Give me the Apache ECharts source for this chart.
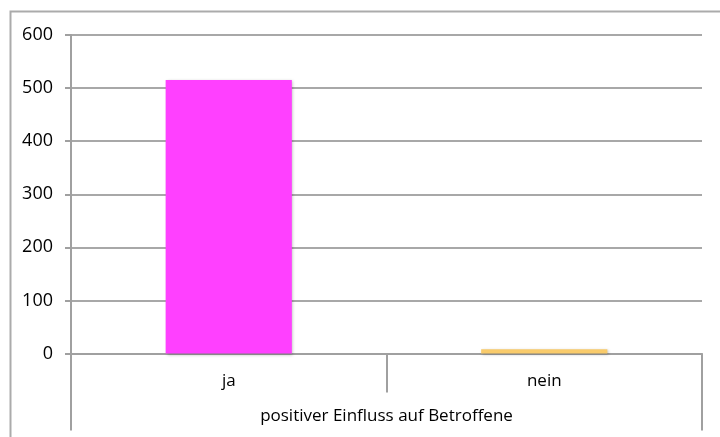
<!DOCTYPE html>
<html>
<head>
<meta charset="utf-8">
<script src="https://cdn.jsdelivr.net/npm/echarts@6/dist/echarts.min.js"></script>
<style>
html,body{margin:0;padding:0;background:#fff;}
#c{width:720px;height:437px;}
</style>
</head>
<body>
<div id="c"></div>
<script>
const categories = ['ja', 'nein'];
const groupLabel = ['positiver Einfluss auf Betroffene'];
const values = [515, 8];
const barColors = ['#FF40FF', '#F9CB6B'];
const yTicks = [0, 100, 200, 300, 400, 500, 600];

const FONT = 'Open Sans';
const chart = echarts.init(document.getElementById('c'), null, {renderer: 'canvas'});
chart.setOption({
  animation: false,
  backgroundColor: '#fff',
  graphic: [{
    type: 'rect', left: 8, top: 9,
    shape: {width: 730, height: 450},
    style: {fill: 'none', stroke: '#ababab', lineWidth: 2},
    silent: true, z: -1
  }],
  grid: {left: 71, right: 18, top: 35, bottom: 83.5, containLabel: false},
  xAxis: [{
    type: 'category',
    data: categories,
    position: 'bottom',
    axisLine: {show: true, lineStyle: {color: '#a0a0a0', width: 2}},
    axisTick: {show: true, interval: 0, length: 39, lineStyle: {color: '#a0a0a0', width: 2}},
    axisLabel: {color: '#000', fontFamily: FONT, fontSize: 17, margin: 19}
  }, {
    type: 'category',
    data: groupLabel,
    position: 'bottom',
    axisLine: {show: false},
    axisTick: {show: true, interval: 0, length: 77, lineStyle: {color: '#a0a0a0', width: 2}},
    axisLabel: {color: '#000', fontFamily: FONT, fontSize: 17, margin: 54}
  }],
  yAxis: {
    type: 'value',
    min: yTicks[0], max: yTicks[yTicks.length - 1], interval: yTicks[1] - yTicks[0],
    axisLine: {show: true, lineStyle: {color: '#a0a0a0', width: 2}},
    axisTick: {show: true, length: 6, lineStyle: {color: '#a0a0a0', width: 2}},
    splitLine: {show: true, lineStyle: {color: '#a8a8a8', width: 2}},
    axisLabel: {color: '#000', fontFamily: FONT, fontSize: 18, margin: 18}
  },
  series: [{
    type: 'bar',
    xAxisIndex: 0,
    data: values.map((v, i) => ({value: v, itemStyle: {color: barColors[i]}})),
    barWidth: '40%',
    itemStyle: {shadowBlur: 3, shadowColor: 'rgba(0,0,0,0.25)', shadowOffsetX: 1, shadowOffsetY: 1}
  }]
});
</script>
</body>
</html>
